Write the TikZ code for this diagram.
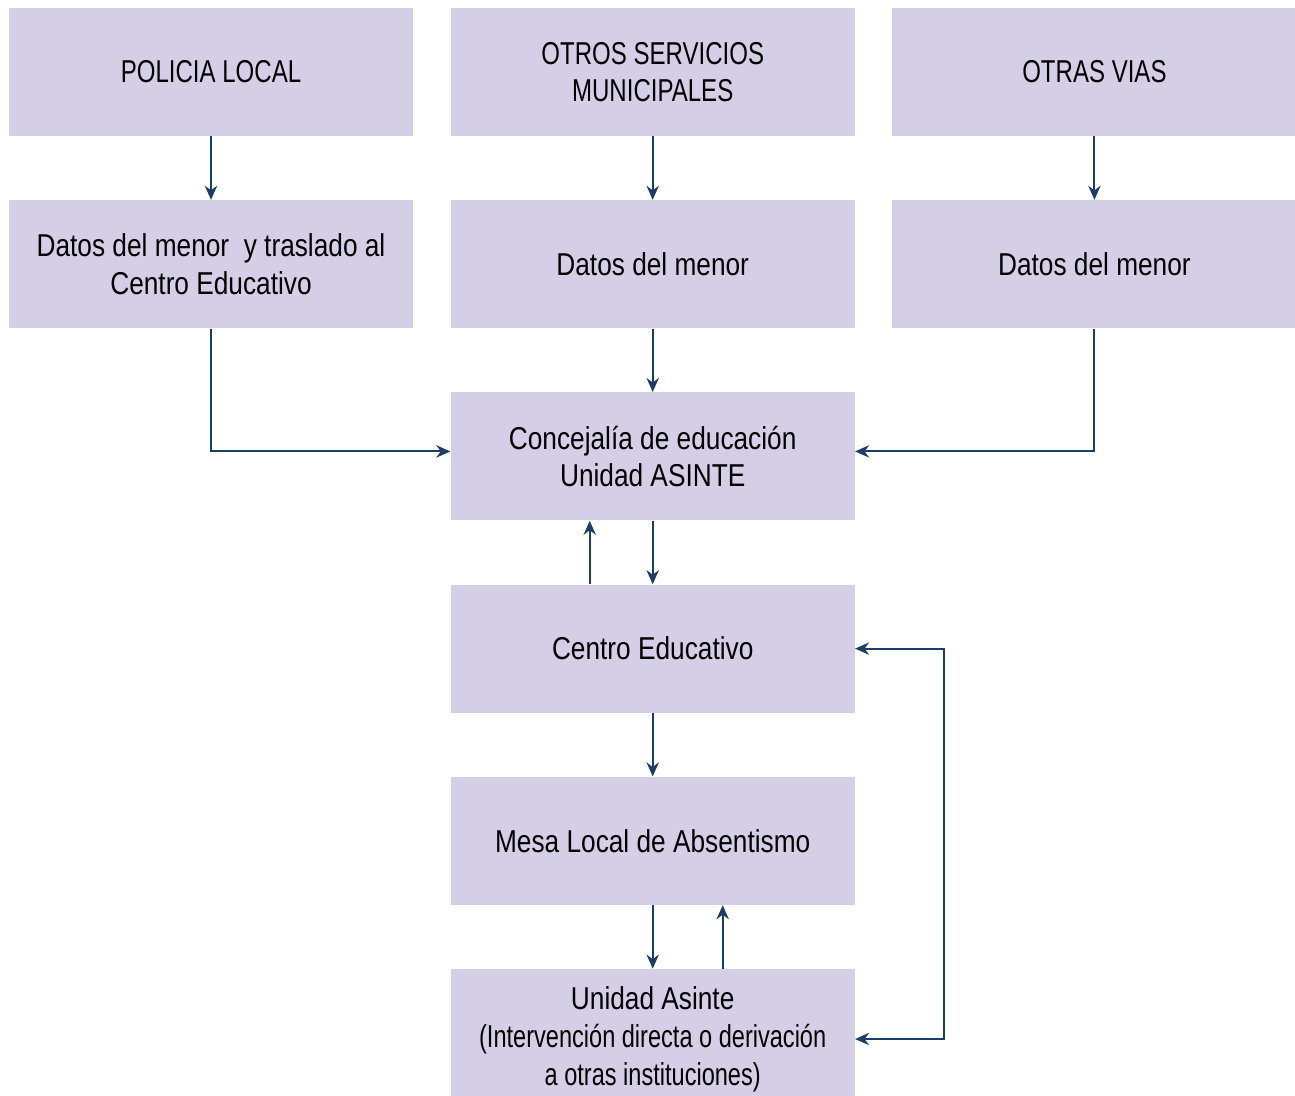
\documentclass[tikz,border=0pt]{standalone}
\usepackage{fontspec}
\setmainfont{Liberation Sans}[FakeStretch=0.83]
\newfontfamily\capsfont{Liberation Sans}[FakeStretch=0.76]
\newfontfamily\thinfont{Liberation Sans}[FakeStretch=0.745]
\usetikzlibrary{arrows.meta,positioning}
\definecolor{boxfill}{HTML}{D4CFE6}
\definecolor{linecol}{HTML}{1B3D68}

\begin{document}
\begin{tikzpicture}[>={Stealth[length=8pt,width=7pt]},node distance=1.27cm and 0.74cm,
    box/.style={rectangle,fill=boxfill,minimum width=8.08cm,minimum height=2.56cm,
      inner sep=0pt,align=center,font=\fontsize{18}{21.5}\selectfont},
    capsbox/.style={box,font=\fontsize{18}{21.5}\selectfont\capsfont},
    link/.style={->,draw=linecol,line width=1.1pt}]
        \useasboundingbox (0,0) rectangle (25.9,-21.9);

        \node[capsbox] (pol) at (4.22,-1.44) {POLICIA LOCAL};
        \node[capsbox] (otros) [right=of pol] {OTROS SERVICIOS\\MUNICIPALES};
        \node[capsbox] (vias) [right=of otros] {OTRAS VIAS};

        \node[box] (dpol) [below=of pol] {Datos del menor \ y traslado al\\Centro Educativo};
        \node[box] (dotros) [below=of otros] {Datos del menor};
        \node[box] (dvias) [below=of vias] {Datos del menor};

        \node[box] (conc) [below=of dotros] {Concejalía de educación\\Unidad ASINTE};
        \node[box] (cen) [below=of conc] {Centro Educativo};
        \node[box] (mesa) [below=of cen] {Mesa Local de Absentismo};
        % taller box, cut by the bounding box
        \node[box,minimum height=2.8cm] (uni) [below=of mesa] {Unidad Asinte\\{\thinfont(Intervención directa o derivación}\\{\thinfont a otras instituciones)}};

        \draw[link] (pol) -- (dpol);
        \draw[link] (otros) -- (dotros);
        \draw[link] (vias) -- (dvias);
        \draw[link] (dotros) -- (conc);
        \draw[link] (dpol.south) |- ([yshift=0.1cm]conc.west);
        \draw[link] (dvias.south) |- ([yshift=0.1cm]conc.east);

        \draw[link] (conc) -- (cen);
        \draw[link] ([xshift=-1.26cm]cen.north) -- ([xshift=-1.26cm]conc.south);
        \draw[link] (cen) -- (mesa);
        \draw[link] (mesa) -- (uni);
        \draw[link] ([xshift=1.4cm]uni.north) -- ([xshift=1.4cm]mesa.south);
        \draw[link,<->] (cen.east) -- ++(1.78,0) |- (uni.east);
      \end{tikzpicture}
\end{document}
